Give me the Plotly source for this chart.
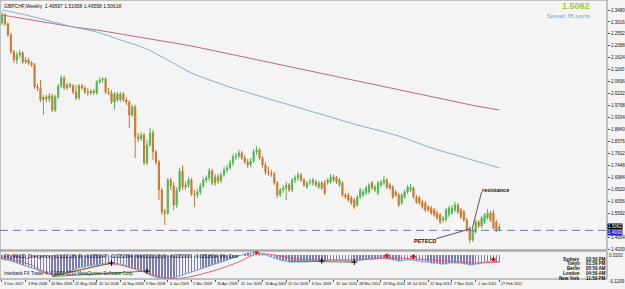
import plotly.graph_objects as go

# ---------------- data ----------------
date_labels = ["9 Dec 2007", "3 Feb 2008", "30 Mar 2008", "25 May 2008", "20 Jul 2008",
               "14 Sep 2008", "9 Nov 2008", "4 Jan 2009", "1 Mar 2009", "26 Apr 2009",
               "21 Jun 2009", "16 Aug 2009", "11 Oct 2009", "6 Dec 2009", "31 Jan 2010",
               "28 Mar 2010", "23 May 2010", "18 Jul 2010", "12 Sep 2010", "7 Nov 2010",
               "2 Jan 2011", "27 Feb 2011"]
label_bars = [0, 8, 16, 24, 32, 40, 48, 56, 64, 72, 80, 88, 96, 104, 112, 120, 128, 136,
              144, 152, 160, 168]

open_ = [
    2.2978, 2.3288, 2.2939, 2.2512, 2.1852, 2.1542, 2.1736, 2.1814, 2.1464, 2.1542,
    2.1426, 2.1348, 2.0494, 2.0456, 1.9990, 2.0106, 2.0029, 2.0145, 1.9602, 2.0106,
    2.0533, 2.0844, 2.0456, 2.0572, 2.0533, 2.0300, 2.0067, 2.0533, 2.0456, 2.0300,
    2.0262, 2.0339, 2.0262, 2.0688, 2.0766, 2.0805, 2.0300, 2.0262, 1.9912, 2.0223,
    1.9990, 2.0223, 1.9990, 1.9912, 1.9408, 1.9718, 1.8554, 1.8477, 1.8632, 1.7546,
    1.8244, 1.8710, 1.7972, 1.7584, 1.6498, 1.5644, 1.5605, 1.6886, 1.6653, 1.5916,
    1.6498, 1.7235, 1.6614, 1.6692, 1.6886, 1.6343, 1.6304, 1.6420, 1.6653, 1.6886,
    1.6964, 1.7235, 1.6770, 1.7003, 1.6847, 1.7080, 1.7274, 1.7352, 1.7546, 1.7778,
    1.7817, 1.7934, 1.7740, 1.7584, 1.7468, 1.7623, 1.7972, 1.8050, 1.7740, 1.7468,
    1.7196, 1.7158, 1.7119, 1.6770, 1.6304, 1.6498, 1.6576, 1.6692, 1.6498, 1.6886,
    1.6964, 1.7080, 1.6886, 1.6614, 1.6770, 1.6770, 1.6808, 1.6614, 1.6770, 1.6770,
    1.6770, 1.6808, 1.7003, 1.6964, 1.6692, 1.6770, 1.6304, 1.6304, 1.6188, 1.6110,
    1.5916, 1.6226, 1.6304, 1.6381, 1.6420, 1.6770, 1.6498, 1.6381, 1.6692, 1.6770,
    1.6886, 1.6692, 1.6614, 1.6420, 1.6304, 1.5994, 1.6226, 1.6420, 1.6498, 1.6576,
    1.6226, 1.6188, 1.6032, 1.5994, 1.5838, 1.5800, 1.5722, 1.5605, 1.5528, 1.5334,
    1.5334, 1.5528, 1.5605, 1.5722, 1.5916, 1.5722, 1.5644, 1.5334, 1.5024, 1.4558,
    1.4868, 1.5256, 1.5101, 1.5256, 1.5412, 1.5605, 1.5605, 1.5256, 1.49597]

high = [
    2.3404, 2.3366, 2.3016, 2.2590, 2.1930, 2.1852, 2.1930, 2.1891, 2.1658, 2.1620,
    2.1503, 2.1426, 2.0611, 2.0766, 2.0184, 2.0184, 2.0262, 2.0223, 2.0184, 2.0611,
    2.0960, 2.0921, 2.0650, 2.0650, 2.0611, 2.0572, 2.0611, 2.0611, 2.0533, 2.0456,
    2.0417, 2.0417, 2.0766, 2.0882, 2.0882, 2.0882, 2.0456, 2.0378, 2.0300, 2.0300,
    2.0300, 2.0300, 2.0106, 1.9990, 1.9796, 1.9796, 1.8710, 1.8748, 1.8710, 1.8438,
    1.8904, 1.8826, 1.8050, 1.7662, 1.6576, 1.5761, 1.6964, 1.6964, 1.6808, 1.6614,
    1.7352, 1.7468, 1.6808, 1.7003, 1.6964, 1.6498, 1.6537, 1.6770, 1.7003, 1.7080,
    1.7352, 1.7313, 1.7119, 1.7119, 1.7196, 1.7390, 1.7468, 1.7662, 1.7895, 1.7934,
    1.8050, 1.8011, 1.7856, 1.7701, 1.7740, 1.8089, 1.8205, 1.8128, 1.7817, 1.7584,
    1.7390, 1.7274, 1.7196, 1.6847, 1.6576, 1.6692, 1.6808, 1.6770, 1.6964, 1.7080,
    1.7196, 1.7158, 1.6964, 1.6847, 1.6925, 1.6964, 1.6886, 1.6847, 1.6847, 1.6886,
    1.6964, 1.7119, 1.7080, 1.7041, 1.6964, 1.6847, 1.6381, 1.6381, 1.6265, 1.6188,
    1.6304, 1.6576, 1.6537, 1.6653, 1.6770, 1.6847, 1.6692, 1.6847, 1.6886, 1.7041,
    1.6964, 1.6770, 1.6692, 1.6498, 1.6381, 1.6381, 1.6498, 1.6692, 1.6731, 1.6653,
    1.6304, 1.6265, 1.6110, 1.6071, 1.5916, 1.5877, 1.5800, 1.5683, 1.5605, 1.5489,
    1.5800, 1.5877, 1.5916, 1.6032, 1.5994, 1.5800, 1.5722, 1.5412, 1.5101, 1.5024,
    1.5334, 1.5334, 1.5489, 1.5605, 1.5761, 1.5683, 1.5722, 1.5334, 1.51958]

low = [
    2.2900, 2.2861, 2.2434, 2.1775, 2.1426, 2.1387, 2.1620, 2.1387, 2.1387, 2.1348,
    2.1270, 2.0417, 2.0339, 1.9912, 1.9408, 1.9912, 1.9912, 1.9524, 1.9524, 2.0029,
    2.0456, 2.0378, 2.0378, 2.0456, 2.0223, 1.9990, 1.9990, 2.0378, 2.0223, 2.0145,
    2.0184, 2.0184, 2.0184, 2.0611, 2.0650, 2.0223, 2.0184, 1.9835, 1.9602, 1.9912,
    1.9912, 1.9912, 1.9796, 1.8904, 1.9330, 1.7740, 1.8360, 1.8399, 1.7468, 1.7468,
    1.8166, 1.7662, 1.7468, 1.6110, 1.5528, 1.5140, 1.5528, 1.6498, 1.5722, 1.5800,
    1.6420, 1.6498, 1.6498, 1.6576, 1.6265, 1.5838, 1.6188, 1.6304, 1.6576, 1.6770,
    1.6847, 1.6692, 1.6653, 1.6731, 1.6770, 1.7003, 1.7158, 1.7274, 1.7429, 1.7662,
    1.7740, 1.7662, 1.7507, 1.7352, 1.7390, 1.7546, 1.7856, 1.7662, 1.7352, 1.7080,
    1.7041, 1.7003, 1.6692, 1.6188, 1.6226, 1.6381, 1.6110, 1.6420, 1.6420, 1.6770,
    1.6847, 1.6808, 1.6614, 1.6537, 1.6692, 1.6653, 1.6614, 1.6537, 1.6498, 1.6304,
    1.6692, 1.6731, 1.6808, 1.6731, 1.6614, 1.6226, 1.6149, 1.6032, 1.5916, 1.5761,
    1.5838, 1.6149, 1.6226, 1.6304, 1.6343, 1.6498, 1.6420, 1.6304, 1.6614, 1.6692,
    1.6537, 1.6498, 1.6149, 1.6226, 1.5838, 1.5916, 1.6149, 1.6343, 1.6420, 1.6149,
    1.5955, 1.5916, 1.5761, 1.5644, 1.5644, 1.5528, 1.5450, 1.5334, 1.5179, 1.5217,
    1.5256, 1.5450, 1.5528, 1.5644, 1.5567, 1.5373, 1.5256, 1.4868, 1.4442, 1.4480,
    1.4791, 1.5024, 1.5024, 1.5179, 1.5334, 1.5256, 1.4946, 1.4868, 1.49558]

close = [
    2.3288, 2.2939, 2.2512, 2.1852, 2.1542, 2.1736, 2.1814, 2.1464, 2.1542, 2.1426,
    2.1348, 2.0494, 2.0456, 1.9990, 2.0106, 2.0029, 2.0145, 1.9602, 2.0106, 2.0533,
    2.0844, 2.0456, 2.0572, 2.0533, 2.0300, 2.0067, 2.0533, 2.0456, 2.0300, 2.0262,
    2.0339, 2.0262, 2.0688, 2.0766, 2.0805, 2.0300, 2.0262, 1.9912, 2.0223, 1.9990,
    2.0223, 1.9990, 1.9912, 1.9408, 1.9718, 1.8554, 1.8477, 1.8632, 1.7546, 1.8244,
    1.8710, 1.7972, 1.7584, 1.6498, 1.5644, 1.5605, 1.6886, 1.6653, 1.5916, 1.6498,
    1.7235, 1.6614, 1.6692, 1.6886, 1.6343, 1.6304, 1.6420, 1.6653, 1.6886, 1.6964,
    1.7235, 1.6770, 1.7003, 1.6847, 1.7080, 1.7274, 1.7352, 1.7546, 1.7778, 1.7817,
    1.7934, 1.7740, 1.7584, 1.7468, 1.7623, 1.7972, 1.8050, 1.7740, 1.7468, 1.7196,
    1.7158, 1.7119, 1.6770, 1.6304, 1.6498, 1.6576, 1.6692, 1.6498, 1.6886, 1.6964,
    1.7080, 1.6886, 1.6692, 1.6770, 1.6808, 1.6886, 1.6692, 1.6770, 1.6576, 1.6381,
    1.6886, 1.7003, 1.6886, 1.6808, 1.6886, 1.6304, 1.6226, 1.6110, 1.5994, 1.5838,
    1.6226, 1.6498, 1.6420, 1.6576, 1.6692, 1.6576, 1.6614, 1.6770, 1.6808, 1.6886,
    1.6614, 1.6576, 1.6226, 1.6304, 1.5916, 1.6304, 1.6420, 1.6614, 1.6614, 1.6226,
    1.6032, 1.5994, 1.5838, 1.5722, 1.5722, 1.5605, 1.5528, 1.5412, 1.5256, 1.5412,
    1.5722, 1.5800, 1.5800, 1.5916, 1.5644, 1.5450, 1.5334, 1.4946, 1.4558, 1.4946,
    1.5256, 1.5101, 1.5412, 1.5528, 1.5605, 1.5334, 1.5024, 1.4946, 1.50618]

# moving averages sampled every 8 weeks (same bars as the date labels)
ma_slow = [2.3288, 2.3133, 2.2978, 2.2822, 2.2706, 2.2551, 2.2396, 2.2240, 2.2085, 2.1891,
           2.1697, 2.1503, 2.1309, 2.1115, 2.0921, 2.0727, 2.0533, 2.0339, 2.0145, 1.9951,
           1.9757, 1.9602]
ma_fast = [2.3482, 2.3288, 2.3055, 2.2822, 2.2628, 2.2318, 2.2008, 2.1542, 2.1038, 2.0688,
           2.0378, 2.0106, 1.9835, 1.9563, 1.9292, 1.9020, 1.8787, 1.8516, 1.8166, 1.7895,
           1.7623, 1.7352]

hline_price = 1.4930
last_price = 1.5062

price_ticks = [2.3480, 2.3016, 2.2552, 2.2088, 2.1624, 2.1160, 2.0696, 2.0232, 1.9768, 1.9304,
               1.8840, 1.8376, 1.7912, 1.7448, 1.6984, 1.6520, 1.6056, 1.5592, 1.4664,
               1.4200]

macd = [
    -0.020, -0.025, -0.025, -0.030, -0.035, -0.040, -0.045, -0.050, -0.055, -0.060,
    -0.066, -0.071, -0.076, -0.081, -0.086, -0.091, -0.096, -0.101, -0.106,
    -0.101, -0.096, -0.091, -0.086, -0.081, -0.076, -0.071, -0.066, -0.060, -0.060,
    -0.055, -0.055, -0.050, -0.050, -0.045, -0.045, -0.040, -0.040, -0.040, -0.040,
    -0.045, -0.045, -0.050, -0.055, -0.060, -0.066, -0.071, -0.076, -0.081, -0.086,
    -0.091, -0.101, -0.106, -0.111, -0.116, -0.116, -0.118, -0.118,
    -0.116, -0.116, -0.111, -0.106, -0.101, -0.096, -0.091, -0.086, -0.081, -0.076,
    -0.071, -0.066, -0.060, -0.055, -0.050, -0.045, -0.040, -0.035, -0.030, -0.025,
    -0.020, -0.015, -0.010, -0.005, 0.000, 0.005, 0.010, 0.010, 0.015, 0.015,
    0.010, 0.005, 0.000, -0.005, -0.010, -0.015, -0.020, -0.025, -0.030, -0.030,
    -0.035, -0.035, -0.035, -0.035,
    -0.035, -0.035, -0.035, -0.030, -0.030, -0.030, -0.030, -0.030, -0.030, -0.030,
    -0.025, -0.025, -0.025, -0.025, -0.025, -0.030, -0.030, -0.030, -0.030, -0.030,
    -0.025, -0.025, -0.020, -0.020, -0.020, -0.020, -0.015, -0.015, -0.015, -0.020,
    -0.020, -0.025, -0.025, -0.030, -0.030, -0.025, -0.025, -0.025, -0.025, -0.030,
    -0.030, -0.035, -0.035, -0.035, -0.040, -0.040, -0.040, -0.045, -0.045, -0.045,
    -0.040, -0.040, -0.040, -0.040, -0.040, -0.045, -0.045, -0.050, -0.050, -0.045,
    -0.045, -0.040, -0.035, -0.035, -0.030, -0.030, -0.035, -0.035]

signal_bars = [0, 8, 17, 26, 37, 45, 55, 60, 70, 80, 86, 92, 100, 110, 120, 130, 140, 150, 160, 168]
signal_vals = [-0.015, -0.040, -0.096, -0.076, -0.045, -0.071, -0.116, -0.118, -0.086, -0.035,
               0.005, 0.000, -0.020, -0.025, -0.025, -0.015, -0.020, -0.030, -0.040, -0.035]

div_green_bars = [17, 49]
div_green_vals = [-0.108, -0.081]
div_olive_bars = [17, 37]
div_olive_vals = [-0.106, -0.040]
div_green2_bars = [97, 119]
div_green2_vals = [-0.031, -0.036]
cross_bars = [37, 49, 108, 119]
cross_vals = [-0.040, -0.081, -0.030, -0.036]
star_bars = [86, 130, 139, 166]
star_vals = [0.015, -0.004, -0.008, -0.022]

cities = ["Sydney", "Tokyo", "Berlin", "London", "New York"]
times = ["03:59 PM", "01:59 PM", "05:59 AM", "04:59 AM", "11:59 PM"]

# ---------------- figure ----------------
W, H = 625, 289
ML, MR, MT, MB = 0, 14, 0, 10
PW = W - ML - MR
PH = H - MT - MB
main_bottom_px = 250
ind_top_px = 251
main_dom = [(PH - main_bottom_px) / PH, 1.0]
ind_dom = [0.0, (PH - ind_top_px) / PH]

bars = list(range(len(close)))
x_range = [-0.67, 204.36]
FONT = "Liberation Sans"
BG = "#F4F4F4"

fig = go.Figure()

fig.add_trace(go.Scatter(x=label_bars, y=ma_slow, mode="lines",
                         line=dict(color="#C0687E", width=1), hoverinfo="skip",
                         xaxis="x", yaxis="y"))
fig.add_trace(go.Scatter(x=label_bars, y=ma_fast, mode="lines", line_shape="spline",
                         line=dict(color="#86AFC6", width=1), hoverinfo="skip",
                         xaxis="x", yaxis="y"))

fig.add_trace(go.Candlestick(
    x=bars, open=open_, high=high, low=low, close=close,
    increasing=dict(line=dict(color="#52B852", width=1), fillcolor="#3DB83D"),
    decreasing=dict(line=dict(color="#C9772F", width=1), fillcolor="#E2843A"),
    whiskerwidth=0, xaxis="x", yaxis="y"))

# indicator
fig.add_trace(go.Bar(x=bars, y=macd, width=0.22, marker=dict(color="#7C7CB0", line=dict(width=0)),
                     xaxis="x2", yaxis="y2"))
fig.add_trace(go.Scatter(x=bars, y=macd, mode="lines", line=dict(color="#6FA8DC", width=1),
                         xaxis="x2", yaxis="y2"))
fig.add_trace(go.Scatter(x=signal_bars, y=signal_vals, mode="lines", line_shape="spline",
                         line=dict(color="#E0607A", width=1), xaxis="x2", yaxis="y2"))
fig.add_trace(go.Scatter(x=div_green_bars, y=div_green_vals, mode="lines",
                         line=dict(color="#3A9A3A", width=1), xaxis="x2", yaxis="y2"))
fig.add_trace(go.Scatter(x=div_olive_bars, y=div_olive_vals, mode="lines",
                         line=dict(color="#8A6A2A", width=1), xaxis="x2", yaxis="y2"))
fig.add_trace(go.Scatter(x=div_green2_bars, y=div_green2_vals, mode="lines",
                         line=dict(color="#3A9A3A", width=1), xaxis="x2", yaxis="y2"))
fig.add_trace(go.Scatter(x=cross_bars, y=cross_vals, mode="markers",
                         marker=dict(symbol="cross-thin-open", size=4, color="#000000",
                                     line=dict(width=1, color="#000000")),
                         xaxis="x2", yaxis="y2"))
fig.add_trace(go.Scatter(x=star_bars, y=star_vals, mode="markers",
                         marker=dict(symbol="asterisk-open", size=4, color="#E00000",
                                     line=dict(width=1, color="#E00000")),
                         xaxis="x2", yaxis="y2"))

shapes = []
shapes.append(dict(type="line", xref="x domain", yref="y", x0=0, x1=1,
                   y0=hline_price, y1=hline_price,
                   line=dict(color="#7474A8", width=1, dash="8px,5px")))
shapes.append(dict(type="line", xref="x", yref="y", x0=162.0, y0=1.6420, x1=158.8, y1=1.4985,
                   line=dict(color="#555566", width=1)))
shapes.append(dict(type="line", xref="x", yref="y", x0=146.5, y0=1.4600, x1=158.0, y1=1.4985,
                   line=dict(color="#555566", width=1)))
shapes.append(dict(type="rect", xref="paper", yref="paper", x0=0, x1=1,
                   y0=main_dom[0], y1=1, line=dict(color="#8C8C8C", width=1)))
shapes.append(dict(type="rect", xref="paper", yref="paper", x0=0, x1=1,
                   y0=0, y1=ind_dom[1], line=dict(color="#8C8C8C", width=1)))

ann = []
ann.append(dict(text="GBPCHF,Weekly  1.49597 1.51958 1.49558 1.50618", xref="paper",
                yref="paper", x=0.004, y=0.998, xanchor="left", yanchor="top",
                showarrow=False, font=dict(size=5, color="#111111", family=FONT)))
ann.append(dict(text="<b>" + f"{last_price:.4f}" + "</b>", xref="paper", yref="paper",
                x=0.975, y=1.002, xanchor="right", yanchor="top", showarrow=False,
                font=dict(size=9, color="#9ACD32", family=FONT)))
ann.append(dict(text="Spread: 65 points", xref="paper", yref="paper", x=0.975, y=0.962,
                xanchor="right", yanchor="top", showarrow=False,
                font=dict(size=5.5, color="#7E9FC8", family=FONT)))
ann.append(dict(text="<b>resistance</b>", xref="x", yref="y", x=161.5, y=1.6490,
                xanchor="left", yanchor="middle", showarrow=False,
                font=dict(size=5.5, color="#111111", family=FONT)))
ann.append(dict(text="<b>PETECD</b>", xref="x", yref="y", x=138.5, y=1.4520,
                xanchor="left", yanchor="middle", showarrow=False,
                font=dict(size=5.5, color="#111111", family=FONT)))
ann.append(dict(text=f"{last_price:.4f}", xref="paper", yref="y", x=1.0, y=1.5080,
                xanchor="left", yanchor="middle", showarrow=False, bgcolor="#000000",
                borderpad=0, font=dict(size=4.5, color="#FFFFFF", family=FONT)))
ann.append(dict(text=f"{hline_price:.4f}", xref="paper", yref="y", x=1.0, y=1.4852,
                xanchor="left", yanchor="middle", showarrow=False, bgcolor="#1E1EC8",
                borderpad=0, font=dict(size=4.5, color="#FFFFFF", family=FONT)))
ann.append(dict(text="FX_MACD_Divergence_v1.1(12, 26, 9)  -0.0350047  -0.0352804  "
                     "MACD(12,26,9)  -0.0350000  -0.0352804  0%  Cost",
                xref="paper", yref="paper", x=0.004, y=ind_dom[1] - 0.003, xanchor="left",
                yanchor="top", showarrow=False, font=dict(size=4.5, color="#111111", family=FONT)))
ann.append(dict(text="Interbank FX Trader 4, © 2001-2010 MetaQuotes Software Corp.",
                xref="paper", yref="paper", x=0.004, y=0.005, xanchor="left",
                yanchor="bottom", showarrow=False, font=dict(size=4.5, color="#111111", family=FONT)))
for k, (c, t) in enumerate(zip(cities, times)):
    ypx = 259 + 4.8 * k
    ypaper = (PH - ypx) / PH
    ann.append(dict(text="<b>" + c + "</b>", xref="paper", yref="paper", x=0.958, y=ypaper,
                    xanchor="right", yanchor="middle", showarrow=False,
                    font=dict(size=4.5, color="#111111", family=FONT)))
    ann.append(dict(text="<b>" + t + "</b>", xref="paper", yref="paper", x=0.962, y=ypaper,
                    xanchor="left", yanchor="middle", showarrow=False,
                    font=dict(size=4.5, color="#111111", family=FONT)))
for b, lab in zip(label_bars, date_labels):
    ann.append(dict(text=lab, xref="x2", yref="paper", x=b, y=-0.004, xanchor="left",
                    yanchor="top", showarrow=False,
                    font=dict(size=3.8, color="#111111", family=FONT)))
# indicator scale labels
ann.append(dict(text="0.0202", xref="paper", yref="paper", x=1.0, y=(PH - 255.5) / PH,
                xanchor="left", yanchor="middle", showarrow=False,
                font=dict(size=4.5, color="#111111", family=FONT)))
ann.append(dict(text="-0.1209", xref="paper", yref="paper", x=1.0, y=(PH - 281.5) / PH,
                xanchor="left", yanchor="middle", showarrow=False,
                font=dict(size=4.5, color="#111111", family=FONT)))

fig.update_layout(
    width=W, height=H, margin=dict(l=ML, r=MR, t=MT, b=MB, pad=0),
    paper_bgcolor=BG, plot_bgcolor=BG, showlegend=False, boxgap=0.45,
    font=dict(family=FONT, size=5, color="#111111"),
    xaxis=dict(domain=[0, 1], anchor="y", range=x_range, showgrid=False, zeroline=False,
               showticklabels=False, rangeslider=dict(visible=False), fixedrange=True),
    yaxis=dict(domain=main_dom, range=[1.4168, 2.3868], side="right", showgrid=False,
               zeroline=False, tickmode="array", tickvals=price_ticks,
               ticktext=[f"{v:.4f}" for v in price_ticks], ticks="outside", ticklen=2,
               tickcolor="#555555", tickfont=dict(size=4.5, family=FONT, color="#111111"),
               showline=False),
    xaxis2=dict(domain=[0, 1], anchor="y2", matches="x", range=x_range, showgrid=False,
                zeroline=False, showticklabels=False, ticks="outside", ticklen=2,
                tickmode="array", tickvals=label_bars, tickcolor="#555555"),
    yaxis2=dict(domain=ind_dom, range=[-0.1209, 0.0202], side="right", showgrid=False,
                zeroline=False, showticklabels=False, ticks=""),
    annotations=ann, shapes=shapes,
)

fig.write_html("out.html")
